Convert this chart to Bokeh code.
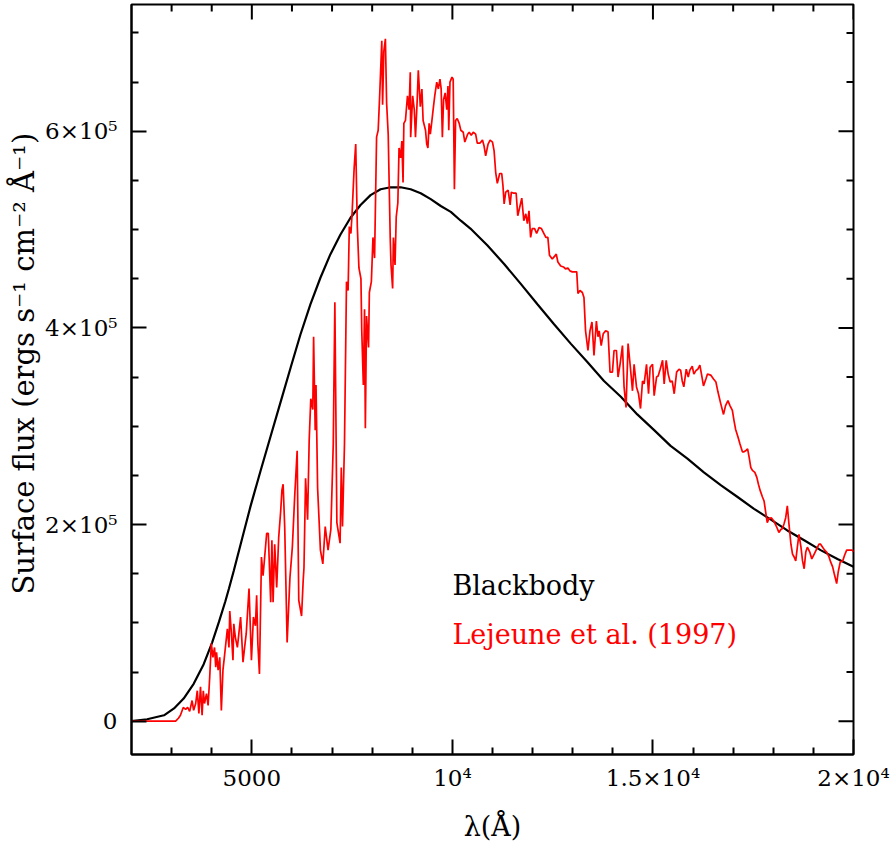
from bokeh.plotting import figure
from bokeh.models import FixedTicker, Label, Range1d, Title
from bokeh.embed import file_html
from bokeh.resources import INLINE

FONT = "DejaVu Serif"

# Blackbody curve: wavelength (Angstrom) and flux (units of 1e5 ergs/s/cm^2/A)
wl_bb = [2000, 2390, 2810, 3060, 3300, 3550, 3800, 4010, 4180, 4340, 4430, 4550,
         4760, 4970, 5220, 5470, 5720, 5970, 6210, 6460, 6710, 6960, 7210, 7460,
         7710, 7960, 8210, 8460, 8710, 8960, 9210, 9460, 9710, 9960, 10210, 10450,
         10700, 10870, 11290, 11700, 12120, 12530, 12950, 13370, 13780, 14200, 14610,
         15030, 15440, 15860, 16270, 16690, 17110, 17520, 17940, 18350, 18770, 19180,
         19600, 20000]
fx_bb = [0.00, 0.02, 0.06, 0.13, 0.23, 0.38, 0.58, 0.80, 1.01, 1.22, 1.35, 1.53,
         1.86, 2.19, 2.55, 2.90, 3.25, 3.60, 3.93, 4.24, 4.51, 4.75, 4.95, 5.12,
         5.25, 5.35, 5.41, 5.43, 5.43, 5.41, 5.37, 5.31, 5.24, 5.18, 5.09, 5.01,
         4.91, 4.84, 4.65, 4.45, 4.24, 4.04, 3.84, 3.65, 3.46, 3.30, 3.12,
         2.96, 2.80, 2.67, 2.53, 2.40, 2.28, 2.16, 2.05, 1.94, 1.84, 1.74,
         1.65, 1.57]

# Lejeune et al. (1997) model spectrum
wl_lej = [2000, 2470, 3100, 3170, 3220, 3290, 3350, 3400, 3450, 3510, 3550, 3600,
          3640, 3680, 3720, 3760, 3790, 3820, 3870, 3910, 3950, 3990, 4030, 4070,
          4100, 4120, 4160, 4200, 4240, 4280, 4320, 4390, 4430, 4450, 4490, 4530,
          4550, 4590, 4640, 4720, 4780, 4820, 4860, 4930, 4990, 5040, 5090, 5120,
          5150, 5190, 5240, 5280, 5320, 5370, 5410, 5470, 5500, 5530, 5570, 5620,
          5670, 5720, 5750, 5780, 5820, 5880, 5950, 6010, 6070, 6130, 6170, 6240,
          6280, 6300, 6340, 6390, 6430, 6470, 6520, 6540, 6580, 6600, 6640, 6710,
          6770, 6830, 6900, 6970, 7030, 7070, 7120, 7200, 7230, 7260, 7310, 7360,
          7400, 7430, 7470, 7500, 7550, 7590, 7630, 7670, 7720, 7740, 7780, 7810,
          7830, 7860, 7910, 7930, 7980, 8020, 8060, 8110, 8150, 8190, 8240, 8260,
          8290, 8330, 8360, 8400, 8450, 8470, 8510, 8530, 8570, 8600, 8640, 8670,
          8710, 8740, 8770, 8790, 8830, 8880, 8920, 8950, 8960, 9010, 9050, 9080,
          9120, 9150, 9200, 9240, 9270, 9330, 9360, 9390, 9420, 9450, 9490, 9520,
          9560, 9610, 9650, 9690, 9720, 9750, 9780, 9820, 9860, 9890, 9910, 9940,
          9990, 10020, 10050, 10080, 10120, 10170, 10210, 10270, 10310, 10380, 10420, 10470,
          10520, 10580, 10620, 10690, 10750, 10790, 10830, 10890, 10940, 11000, 11040, 11080,
          11120, 11180, 11230, 11260, 11290, 11330, 11390, 11440, 11470, 11530, 11590, 11630,
          11680, 11730, 11780, 11830, 11870, 11910, 11950, 11990, 12050, 12100, 12160, 12220,
          12270, 12330, 12380, 12420, 12490, 12530, 12590, 12630, 12700, 12770, 12820, 12880,
          12930, 12990, 13050, 13100, 13130, 13180, 13240, 13280, 13320, 13380, 13430, 13480,
          13530, 13590, 13630, 13660, 13710, 13760, 13820, 13880, 13930, 13990, 14030, 14090,
          14130, 14180, 14240, 14280, 14330, 14380, 14430, 14490, 14530, 14590, 14640, 14690,
          14740, 14780, 14840, 14890, 14930, 14990, 15030, 15090, 15130, 15180, 15240, 15280,
          15330, 15380, 15430, 15480, 15530, 15590, 15650, 15690, 15730, 15770, 15830, 15880,
          15920, 15980, 16020, 16080, 16120, 16170, 16210, 16260, 16320, 16360, 16440, 16510,
          16570, 16620, 16690, 16760, 16810, 16870, 16920, 16980, 17020, 17060, 17120, 17170,
          17230, 17270, 17310, 17360, 17400, 17440, 17480, 17540, 17590, 17630, 17670, 17730,
          17770, 17810, 17850, 17890, 17950, 18020, 18090, 18140, 18190, 18230, 18270, 18310,
          18350, 18390, 18440, 18480, 18520, 18560, 18600, 18640, 18690, 18730, 18770, 18810,
          18850, 18910, 18960, 19020, 19080, 19140, 19180, 19230, 19280, 19330, 19390, 19430,
          19480, 19520, 19580, 19620, 19670, 19730, 19780, 19830, 19890, 19970, 20000]
fx_lej = [0.00, 0.00, 0.00, 0.03, 0.06, 0.14, 0.12, 0.14, 0.10, 0.21, 0.11, 0.18,
          0.31, 0.08, 0.35, 0.06, 0.31, 0.18, 0.28, 0.16, 0.45, 0.79, 0.65, 0.75,
          0.55, 0.70, 0.52, 0.65, 0.11, 0.52, 0.67, 0.94, 0.75, 1.12, 0.90, 0.62,
          0.99, 0.85, 0.75, 1.06, 0.60, 0.75, 0.89, 1.35, 0.62, 1.06, 0.97, 1.28,
          0.79, 0.48, 1.67, 1.48, 1.67, 1.91, 1.91, 1.21, 1.84, 1.21, 1.80, 1.36,
          1.87, 2.14, 2.35, 2.41, 1.97, 0.80, 1.46, 1.77, 2.30, 2.75, 1.23, 1.07,
          1.43, 1.56, 2.47, 2.05, 2.86, 3.28, 3.17, 3.91, 2.96, 3.42, 2.37, 1.74,
          1.60, 1.98, 1.74, 1.95, 2.82, 4.26, 2.02, 1.81, 2.58, 1.98, 2.82, 4.47,
          4.38, 5.03, 4.96, 5.17, 5.62, 5.87, 5.03, 4.61, 4.50, 3.98, 3.42, 4.19,
          2.98, 4.12, 3.80, 4.36, 4.47, 4.92, 4.71, 5.94, 6.01, 6.39, 6.92, 6.27,
          6.81, 6.94, 6.29, 5.97, 4.92, 4.64, 4.40, 4.92, 4.64, 5.13, 5.27, 5.83,
          5.73, 5.90, 5.48, 6.08, 6.11, 6.36, 6.22, 6.60, 5.94, 6.36, 6.22, 5.94,
          6.29, 6.62, 6.25, 6.43, 6.11, 6.01, 5.87, 5.83, 6.08, 5.97, 6.11, 6.22,
          6.36, 6.50, 6.43, 6.53, 6.43, 5.94, 6.32, 6.39, 6.22, 6.46, 6.01, 6.50,
          6.55, 6.53, 5.41, 6.11, 6.13, 6.08, 6.01, 5.99, 5.89, 5.97, 5.99, 5.96,
          5.99, 5.97, 5.88, 5.88, 5.91, 5.85, 5.75, 5.87, 5.91, 5.89, 5.80, 5.58,
          5.47, 5.57, 5.57, 5.45, 5.26, 5.38, 5.40, 5.25, 5.38, 5.37, 5.37, 5.14,
          5.23, 5.32, 5.09, 5.16, 5.06, 5.19, 4.92, 5.01, 5.01, 4.96, 5.02, 5.01,
          4.97, 4.92, 4.92, 4.74, 4.70, 4.72, 4.75, 4.67, 4.63, 4.62, 4.60, 4.61,
          4.58, 4.57, 4.57, 4.57, 4.35, 4.38, 4.36, 4.31, 3.97, 3.77, 3.97, 4.06,
          3.72, 4.07, 3.91, 3.97, 3.82, 3.94, 3.97, 3.96, 3.55, 3.55, 3.77, 3.77,
          3.50, 3.63, 3.82, 3.40, 3.19, 3.84, 3.63, 3.36, 3.63, 3.40, 3.33, 3.18,
          3.46, 3.43, 3.63, 3.33, 3.60, 3.63, 3.31, 3.50, 3.51, 3.58, 3.67, 3.43,
          3.67, 3.53, 3.45, 3.46, 3.33, 3.55, 3.58, 3.57, 3.46, 3.40, 3.58, 3.50,
          3.57, 3.61, 3.53, 3.57, 3.58, 3.62, 3.53, 3.41, 3.48, 3.53, 3.52, 3.48,
          3.45, 3.35, 3.23, 3.12, 3.21, 3.26, 3.21, 3.16, 3.06, 2.97, 2.89, 2.82,
          2.74, 2.74, 2.75, 2.77, 2.68, 2.58, 2.55, 2.53, 2.48, 2.41, 2.35, 2.28,
          2.24, 2.13, 2.02, 2.06, 2.07, 2.03, 1.97, 1.92, 1.95, 1.96, 2.01, 2.07,
          2.19, 2.01, 1.80, 1.70, 1.67, 1.63, 1.77, 1.90, 1.77, 1.63, 1.55, 1.72,
          1.77, 1.72, 1.65, 1.70, 1.75, 1.80, 1.80, 1.77, 1.74, 1.72, 1.67, 1.62,
          1.57, 1.50, 1.40, 1.52, 1.62, 1.63, 1.69, 1.74, 1.74, 1.74, 1.72]

# Axis ticks and labels
x_major = [5000, 10000, 15000, 20000]
x_minor = [3000, 4000, 6000, 7000, 8000, 9000, 11000, 12000, 13000, 14000,
           16000, 17000, 18000, 19000]
x_labels = ["5000", "10\u2074", "1.5\u00d710\u2074", "2\u00d710\u2074"]
y_major = [0, 2, 4, 6]
y_minor = [0.5, 1, 1.5, 2.5, 3, 3.5, 4.5, 5, 5.5, 6.5, 7]
y_labels = ["0", "2\u00d710\u2075", "4\u00d710\u2075", "6\u00d710\u2075"]
x_title = "\u03bb(\u00c5)"
y_title = "Surface flux (ergs s\u207b\u00b9 cm\u207b\u00b2 \u00c5\u207b\u00b9)"

# layout (pixels)
W, H = 890, 848
B_LEFT, B_RIGHT, B_TOP, B_BOTTOM = 131, 37, 4, 94
X0, X1 = 2000, 20000
Y0, Y1 = -0.3387, 7.289
MAJ_LEN, MIN_LEN = 15, 7

p = figure(width=W, height=H, x_range=Range1d(X0, X1), y_range=Range1d(Y0, Y1),
           output_backend="svg", toolbar_location=None,
           min_border_left=B_LEFT, min_border_right=B_RIGHT,
           min_border_top=B_TOP, min_border_bottom=B_BOTTOM)
p.grid.visible = False
p.outline_line_color = "black"
p.outline_line_width = 2
p.background_fill_color = "white"
p.border_fill_color = "white"

frame_w = W - B_LEFT - B_RIGHT
frame_h = H - B_TOP - B_BOTTOM
dx_px = (X1 - X0) / frame_w
dy_px = (Y1 - Y0) / frame_h

for ax in (p.xaxis[0], p.yaxis[0]):
    ax.major_tick_in = MAJ_LEN
    ax.major_tick_out = 0
    ax.minor_tick_in = MIN_LEN
    ax.minor_tick_out = 0
    ax.major_tick_line_color = "black"
    ax.minor_tick_line_color = "black"
    ax.major_tick_line_width = 2
    ax.minor_tick_line_width = 2
    ax.axis_line_color = "black"
    ax.axis_line_width = 2
    ax.major_label_text_font = FONT
    ax.major_label_text_font_size = "23px"
    ax.major_label_text_color = "black"
    ax.axis_label_text_font = FONT
    ax.axis_label_text_font_size = "27px"
    ax.axis_label_text_font_style = "normal"
    ax.axis_label_text_color = "black"

xa = p.xaxis[0]
xa.ticker = FixedTicker(ticks=x_major, minor_ticks=x_minor)
xa.major_label_overrides = dict(zip(x_major, x_labels))
xa.major_label_standoff = 10
xa.axis_label = x_title
xa.axis_label_standoff = 17

ya = p.yaxis[0]
ya.ticker = FixedTicker(ticks=y_major, minor_ticks=y_minor)
ya.major_label_overrides = dict(zip(y_major, y_labels))
ya.major_label_standoff = 14
ya.major_label_orientation = "horizontal"

# y title as a side title (lets it sit a little above the frame centre, as in the reference)
p.add_layout(Title(text=y_title, align="left", offset=160, vertical_align="bottom",
                   standoff=4, text_font=FONT, text_font_size="29px",
                   text_font_style="normal", text_color="black"), "left")

# inward ticks on the top and right frame edges, from the same tick lists
xt_all = x_major + x_minor
xt_len = [MAJ_LEN] * len(x_major) + [MIN_LEN] * len(x_minor)
p.segment(x0=xt_all, y0=[Y1] * len(xt_all), x1=xt_all,
          y1=[Y1 - L * dy_px for L in xt_len], line_color="black", line_width=2)
yt_all = y_major + y_minor
yt_len = [MAJ_LEN] * len(y_major) + [MIN_LEN] * len(y_minor)
p.segment(x0=[X1] * len(yt_all), y0=yt_all, x1=[X1 - L * dx_px for L in yt_len],
          y1=yt_all, line_color="black", line_width=2)

p.line(wl_bb, fx_bb, line_color="black", line_width=2.2)
p.line(wl_lej, fx_lej, line_color="#ff0000", line_width=1.7)

p.add_layout(Label(x=10000, y=1.38, text="Blackbody", text_font=FONT,
                   text_font_size="27px", text_color="black",
                   text_baseline="alphabetic", text_align="left"))
p.add_layout(Label(x=10000, y=0.88, text="Lejeune et al. (1997)", text_font=FONT,
                   text_font_size="27px", text_color="#ff0000",
                   text_baseline="alphabetic", text_align="left"))

open("out.html", "w").write(file_html(p, INLINE))
